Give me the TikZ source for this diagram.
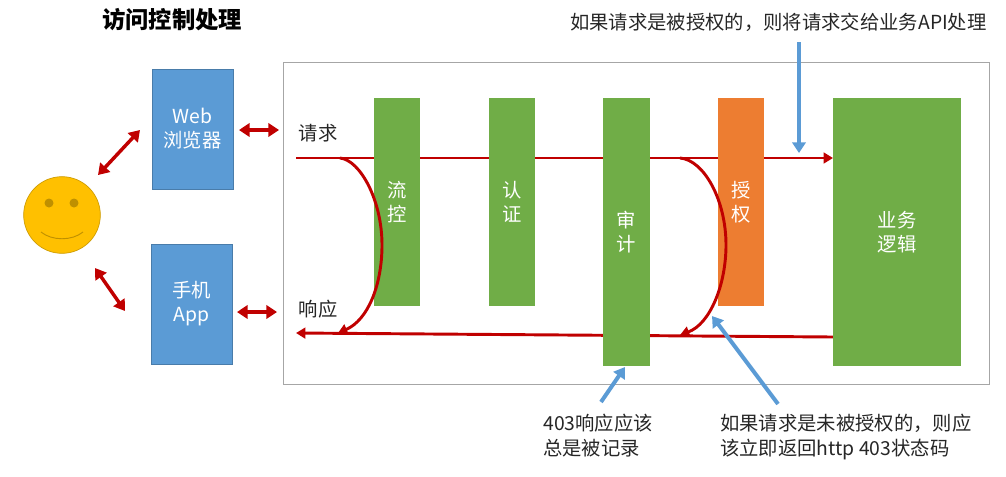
\documentclass[tikz,border=0pt]{standalone}
\usepackage{fontspec}
\setmainfont{Noto Sans CJK SC}
\usetikzlibrary{arrows.meta,backgrounds}
\definecolor{webblue}{HTML}{5B9BD5}
\definecolor{stepgreen}{HTML}{70AD47}
\definecolor{authorange}{HTML}{ED7D31}
\definecolor{linered}{HTML}{C00000}
\definecolor{faceyellow}{HTML}{FFC000}
\tikzset{
  block/.style={inner sep=0pt,text=white,align=center,font=\fontsize{14.5pt}{18pt}\selectfont},
  client/.style={block,fill=webblue,draw=webblue!80!black,line width=0.4pt,minimum width=60.5pt,minimum height=90pt},
  filter/.style={block,fill=stepgreen,minimum width=35pt},
  label/.style={inner sep=0pt,align=left,text=black!85,font=\fontsize{14.5pt}{18.5pt}\selectfont},
  redboth/.style={{Triangle[length=8pt,width=10pt]}-{Triangle[length=8pt,width=10pt]},draw=linered,line width=2.6pt},
  redline/.style={draw=linered,line width=2.2pt},
  redcurve/.style={redline,-{Triangle[length=7pt,width=8pt]}},
  bluearrow/.style={-{Triangle[length=8pt,width=10pt]},draw=webblue,line width=3pt}
}
\begin{document}
\begin{tikzpicture}[x=0.75pt,y=-0.75pt]
  \useasboundingbox (0,0) rectangle (1006,476);

  %frame
  \node[draw=black!35,line width=0.7pt,minimum width=529.5pt,minimum height=241.5pt,inner sep=0pt] (frame) at (636,223) {};

  %title
  \node[inner sep=0pt,font=\fontsize{17.5pt}{20pt}\selectfont\bfseries] (title) at (172,20) {访问控制处理};

  %face
  \node[circle,fill=faceyellow,draw=faceyellow!80!black,line width=0.5pt,minimum size=57.5pt,inner sep=0pt] (face) at (62,215) {};
  \fill[faceyellow!75!black] (49,203) circle (4.5);
  \fill[faceyellow!75!black] (74,203) circle (4.5);
  \draw[faceyellow!75!black,line width=0.7pt] (41,232) .. controls (52,241) and (72,241) .. (83,232);

  %clients
  \node[client] (web) at (192.5,129) {Web\\浏览器};
  \node[client] (app) at (191.5,304) {手机\\App};

  %steps
  \node[filter,minimum height=156pt] (flow) at (397,202) {流\\控};
  \node[filter,minimum height=156pt] (authn) at (512,202) {认\\证};
  \node[filter,minimum height=201pt] (audit) at (626.5,232) {审\\计};
  \node[block,fill=authorange,minimum width=35pt,minimum height=156pt] (authz) at (741,202) {授\\权};
  \node[filter,minimum width=96pt,minimum height=201pt] (biz) at (897,232) {业务\\逻辑};

  %labels
  \node[label] (req) at (318,133) {请求};
  \node[label] (resp) at (318,309) {响应};
  \node[label,anchor=west] (top) at (570,22) {如果请求是被授权的，则将请求交给业务API处理};
  \node[label,anchor=north west] (note) at (543,414) {403响应应该\\总是被记录};
  \node[label,anchor=north west] (deny) at (720,414) {如果请求是未被授权的，则应\\该立即返回http 403状态码};

  %ends
  \coordinate (reqin) at (296,158);
  \coordinate (respout) at (296,333);
  \coordinate (reqfork) at (340,158);
  \coordinate (respjoin) at (338,333);
  \coordinate (authfork) at (680,158);
  \coordinate (authjoin) at (680,335);
  \coordinate (bizreq) at (833,158);
  \coordinate (bizresp) at (833,337);
  \coordinate (faceup) at (98,175);
  \coordinate (webleft) at (140,130);
  \coordinate (facedown) at (95,268);
  \coordinate (appleft) at (125,311);
  \coordinate (webright) at (239,130);
  \coordinate (frameup) at (279,130);
  \coordinate (appright) at (237,312);
  \coordinate (framedown) at (277,312);
  \coordinate (topfrom) at (799,42);
  \coordinate (topto) at (799,153);
  \coordinate (notefrom) at (601,402);
  \coordinate (noteto) at (625,367);
  \coordinate (denyfrom) at (778,404);
  \coordinate (denyto) at (712,316);

  %main lines
  \begin{scope}[on background layer]
    \draw[redline,-{Triangle[length=7pt,width=8pt]}] (reqin) -- (bizreq);
    \draw[redline,-{Triangle[length=7pt,width=8pt]}] (bizresp) -- (respout);
  \end{scope}

  %early return
  \draw[redcurve] (reqfork) .. controls (360,160) and (382,200) .. (382,245) .. controls (382,285) and (368,320) .. (respjoin);
  \draw[redcurve] (authfork) .. controls (704,160) and (726,200) .. (726,245) .. controls (726,285) and (710,324) .. (authjoin);

  %clients to face and frame
  \draw[redboth] (faceup) -- (webleft);
  \draw[redboth] (facedown) -- (appleft);
  \draw[redboth] (webright) -- (frameup);
  \draw[redboth] (appright) -- (framedown);

  %notes
  \draw[bluearrow] (topfrom) -- (topto);
  \draw[bluearrow] (notefrom) -- (noteto);
  \draw[bluearrow] (denyfrom) -- (denyto);
\end{tikzpicture}
\end{document}
